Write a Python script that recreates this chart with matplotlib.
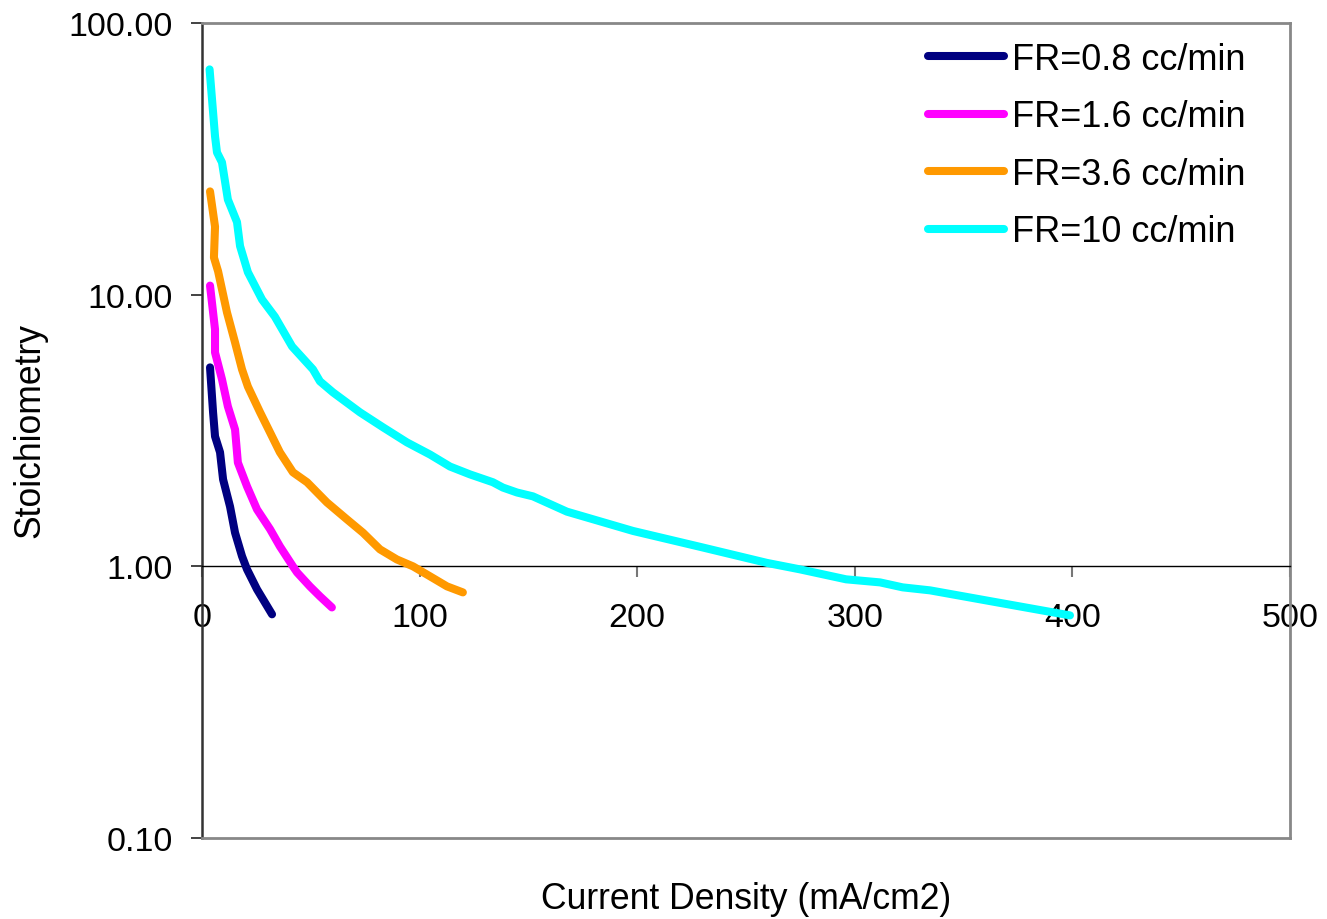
import matplotlib
matplotlib.use("Agg")
import matplotlib.pyplot as plt
from matplotlib.ticker import FixedLocator, NullLocator, FixedFormatter
from matplotlib.lines import Line2D

plt.rcParams['font.family'] = ['Liberation Sans', 'DejaVu Sans']

# Current density (mA/cm2) and stoichiometry for each flow rate
x_fr08 = [3.7, 5.1, 6.0, 8.3, 9.7, 12.9, 15.2, 18.4, 20.7, 25.3, 32.2]
y_fr08 = [5.40, 3.69, 3.01, 2.63, 2.09, 1.66, 1.33, 1.09, 0.975, 0.823, 0.666]

x_fr16 = [3.7, 6.0, 6.0, 9.2, 11.9, 15.2, 16.5, 20.7, 25.3, 31.3, 35.8, 41.8,
          43.7, 49.6, 54.2, 59.7]
y_fr16 = [10.8, 7.45, 6.13, 4.88, 3.88, 3.19, 2.41, 1.97, 1.62, 1.37, 1.185,
          1.00, 0.95, 0.844, 0.776, 0.706]

x_fr36 = [3.7, 6.0, 5.5, 7.4, 11.5, 15.2, 18.4, 21.1, 26.7, 31.3, 35.8, 41.8,
          48.3, 57.4, 66.6, 74.0, 81.8, 89.6, 97.0, 104.8, 112.6, 119.9]
y_fr36 = [24.0, 17.8, 13.7, 12.2, 8.6, 6.67, 5.31, 4.59, 3.69, 3.11, 2.63, 2.22,
          2.04, 1.72, 1.49, 1.33, 1.155, 1.06, 1.00, 0.919, 0.844, 0.802]

x_fr10 = [3.5, 6.0, 6.9, 9.2, 11.9, 16.1, 17.5, 21.1, 27.6, 33.5, 41.4, 51.0,
          54.2, 60.2, 72.6, 83.2, 94.2, 104.8, 114.0, 123.2, 133.7, 138.3, 144.8,
          152.1, 167.7, 198.1, 228.9, 259.6, 274.8, 296.0, 311.6, 322.0, 334.6,
          365.4, 398.9]
y_fr10 = [67.5, 38.3, 33.4, 30.7, 22.4, 18.5, 15.1, 12.1, 9.6, 8.3, 6.45, 5.31,
          4.80, 4.37, 3.69, 3.25, 2.86, 2.58, 2.33, 2.18, 2.04, 1.95, 1.87,
          1.81, 1.59, 1.35, 1.18, 1.03, 0.975, 0.896, 0.873, 0.837, 0.816,
          0.737, 0.660]

labels = ["FR=0.8 cc/min", "FR=1.6 cc/min", "FR=3.6 cc/min", "FR=10 cc/min"]
colors = ["#000080", "#FF00FF", "#FF9900", "#00FFFF"]

y_ticks = [0.1, 1, 10, 100]
y_tick_labels = ["0.10", "1.00", "10.00", "100.00"]
x_ticks = [0, 100, 200, 300, 400, 500]

FS = 24.5
FS_TITLE = 25.6
FS_LEG = 26

fig = plt.figure(figsize=(13.27, 9.2), dpi=100)
ax = fig.add_axes([0.1522, 0.0880, 0.8199, 0.8859])

series = [(x_fr08, y_fr08), (x_fr16, y_fr16), (x_fr36, y_fr36), (x_fr10, y_fr10)]
for (xs, ys), lab, col in zip(series, labels, colors):
    ax.plot(xs, ys, color=col, lw=5.8, label=lab, solid_capstyle='round',
            solid_joinstyle='round', zorder=3)

ax.set_yscale('log')
ax.set_ylim(0.1, 100)
ax.set_xlim(0, 500)

ax.yaxis.set_major_locator(FixedLocator(y_ticks))
ax.yaxis.set_major_formatter(FixedFormatter(y_tick_labels))
ax.yaxis.set_minor_locator(NullLocator())
ax.xaxis.set_major_locator(FixedLocator(x_ticks))
ax.xaxis.set_minor_locator(NullLocator())

# Category axis crosses the value axis at 1.00
ax.spines['bottom'].set_position(('data', 1.0))
ax.spines['bottom'].set_color('black')
ax.spines['bottom'].set_linewidth(1.0)
for side in ('top', 'right'):
    ax.spines[side].set_color('#888888')
    ax.spines[side].set_linewidth(2.0)
ax.spines['left'].set_color('#333333')
ax.spines['left'].set_linewidth(1.8)
ax.add_line(Line2D([0, 1], [0, 0], transform=ax.transAxes, color='#888888',
                   lw=2.0, clip_on=False, zorder=2.6))

ax.tick_params(axis='y', direction='out', length=8, width=1.2, color='#222222',
               labelsize=FS, pad=13)
ax.tick_params(axis='x', direction='out', length=8, width=1.5, color='#777777',
               labelsize=FS, pad=18)

fig.text(30 / 1327, 1 - 431 / 920, "Stoichiometry", fontsize=FS_TITLE,
         rotation=90, ha='center', va='center')
fig.text(746 / 1327, 1 - 900 / 920, "Current Density (mA/cm2)", fontsize=FS_TITLE,
         ha='center', va='center')

leg = ax.legend(loc='upper left', bbox_to_anchor=(928 / 1327, 1 - 43 / 920),
                bbox_transform=fig.transFigure, frameon=False, fontsize=FS_LEG,
                handlelength=2.1, handletextpad=0.22, labelspacing=0.62,
                borderaxespad=0.0, borderpad=0.0)
for h in leg.get_lines():
    h.set_linewidth(5.8)
    h.set_solid_capstyle('round')

fig.savefig("out.png", dpi=100)
